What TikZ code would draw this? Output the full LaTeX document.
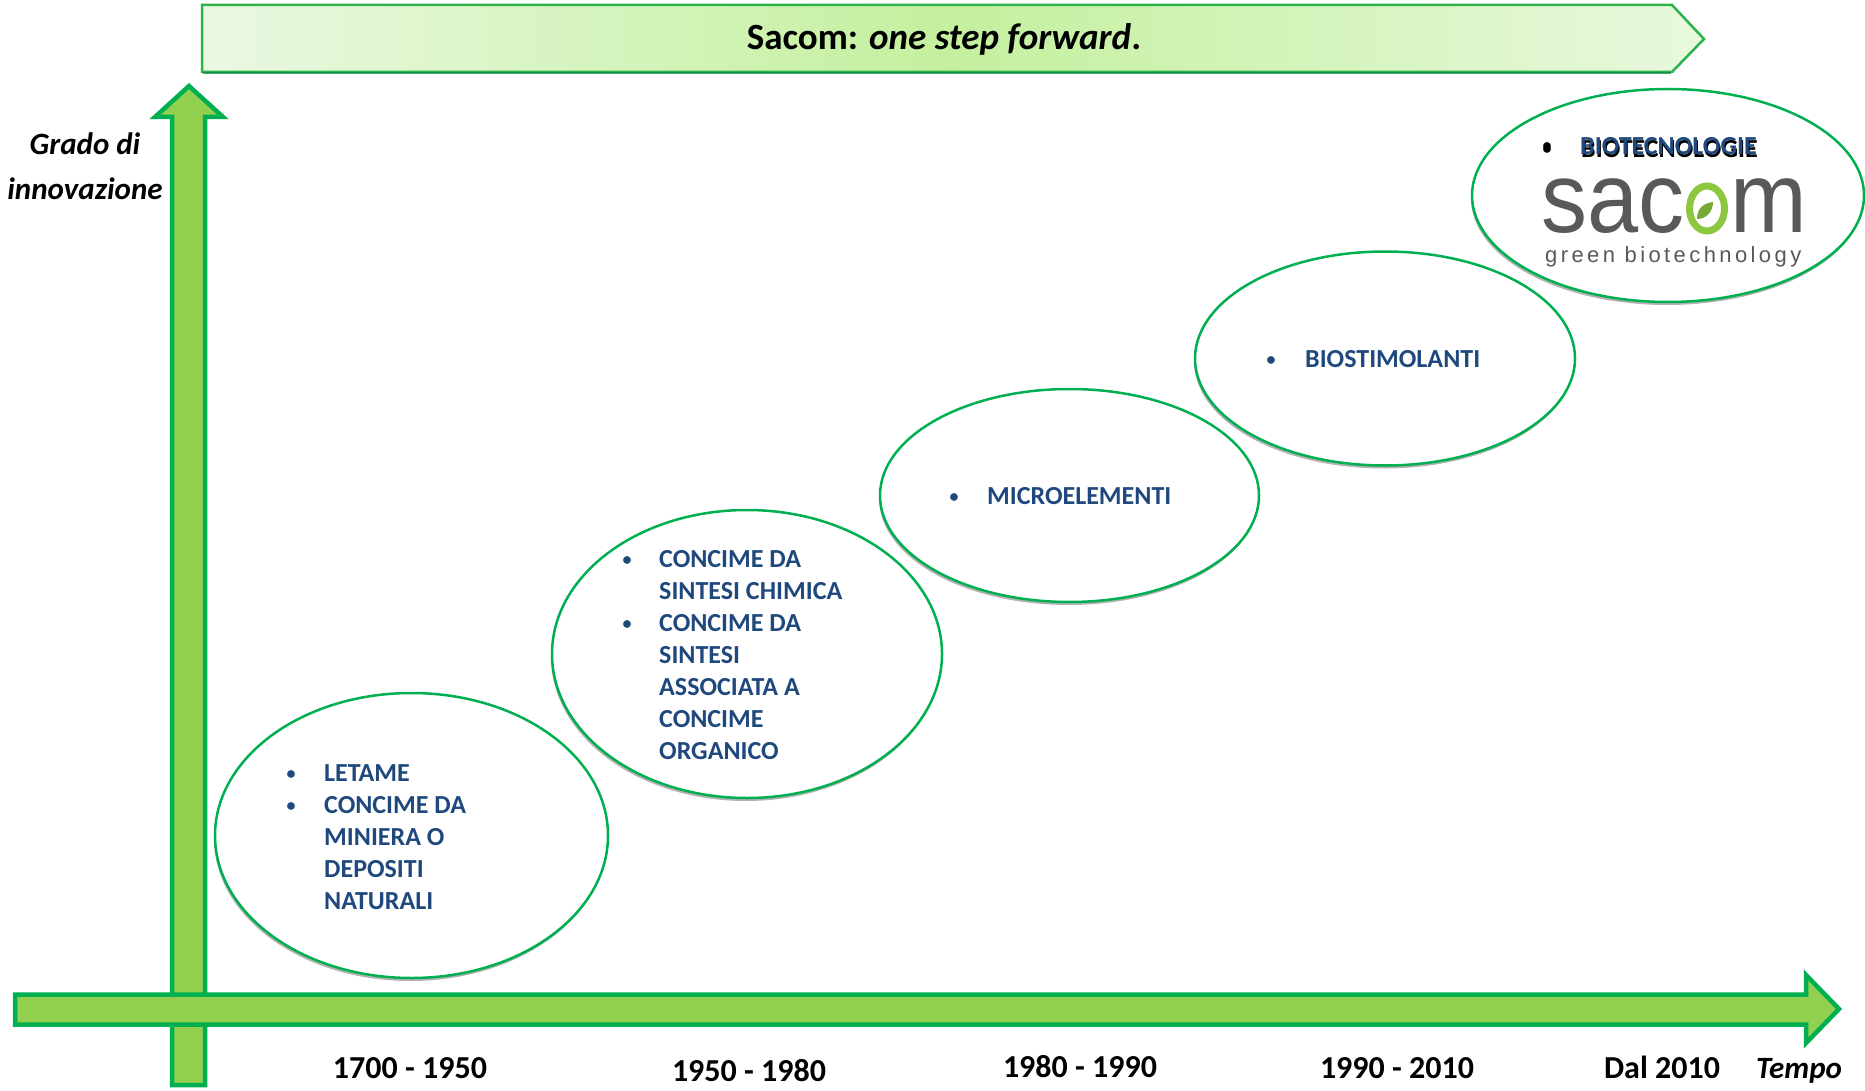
\documentclass[tikz,border=0pt]{standalone}
\usepackage{fontspec}
\setmainfont{Carlito}
\newfontfamily\logofont{Liberation Sans}
\newfontfamily\logosmall[LetterSpace=15.5]{Liberation Sans}
\usetikzlibrary{shapes.geometric,shadows}
\definecolor{agreen}{HTML}{00B050}
\definecolor{lgreen}{HTML}{92D050}
\definecolor{tblue}{HTML}{1F497D}
\definecolor{bborder}{HTML}{2EB24C}
\definecolor{bleft}{HTML}{EAF8E2}
\definecolor{bmid}{HTML}{C4F09E}
\definecolor{bright}{HTML}{E8F8DE}
\definecolor{logogray}{HTML}{595959}
\definecolor{logolime}{HTML}{8DC63F}
\begin{document}
\begin{tikzpicture}[x=1pt,y=-1pt,
  era/.style={ellipse, draw=agreen, line width=2.5pt, fill=white, inner sep=0pt,
    general shadow={fill=gray!60, shadow xshift=-1pt, shadow yshift=-3pt}},
  lst/.style={font=\fontsize{26}{32}\selectfont\bfseries, text=tblue, align=left, inner sep=0pt, anchor=north west},
  bul/.style={font=\fontsize{18}{22}\selectfont\bfseries, text=tblue, inner sep=0pt, anchor=base},
  datelbl/.style={font=\fontsize{32}{38}\selectfont\bfseries, inner sep=0pt, anchor=base},
  axlbl/.style={font=\fontsize{31}{37}\selectfont\bfseries\itshape, inner sep=0pt, anchor=base},
  logobig/.style={font=\logofont\fontsize{100}{104}\selectfont, text=logogray, inner sep=0pt, anchor=base west, xscale=.92},
  bigarrow/.style={draw=agreen, fill=lgreen, line width=4.5pt, line join=miter}]
\useasboundingbox (0,0) rectangle (1865,1091);
\fill[white] (0,0) rectangle (1865,1091);

% banner
\draw[draw=bborder, line width=2.5pt, left color=bleft, right color=bright, middle color=bmid]
  (202,5) -- (1672,5) -- (1704,39) -- (1672,72) -- (202,72) -- cycle;
\draw[draw=agreen!75!black, line width=2pt, opacity=.7] (203,73) -- (1671,73);
\node[font=\fontsize{37}{44}\selectfont\bfseries, inner sep=0pt, anchor=base] (title) at (944,50)
  {Sacom: \textit{one step forward}.};

% vertical axis
\draw[bigarrow] (172,1085) -- (172,117) -- (155,117) -- (189,86) -- (223,117) -- (205,117) -- (205,1085) -- cycle;
% horizontal axis
\draw[bigarrow] (15,994.5) -- (1806,994.5) -- (1806,975) -- (1839,1009) -- (1806,1043) -- (1806,1024.5) -- (15,1024.5) -- cycle;

% axis labels
\node[axlbl] (grado) at (85,155) {Grado di};
\node[axlbl] (innov) at (85,200) {innovazione};
\node[axlbl] (tempo) at (1799,1078) {Tempo};

% dates
\node[datelbl] (d1) at (410,1078) {1700 - 1950};
\node[datelbl] (d2) at (749,1081) {1950 - 1980};
\node[datelbl] (d3) at (1080,1077) {1980 - 1990};
\node[datelbl] (d4) at (1397,1078) {1990 - 2010};
\node[datelbl] (d5) at (1662,1078) {Dal 2010};

% ellipses
\node[era, minimum width=393pt, minimum height=285pt] (e1) at (411.5,835.5) {};
\node[era, minimum width=390pt, minimum height=288pt] (e2) at (747,654) {};
\node[era, minimum width=379pt, minimum height=213pt] (e3) at (1069.5,495.5) {};
\node[era, minimum width=380pt, minimum height=214pt] (e4) at (1385,358.5) {};
\node[era, minimum width=392pt, minimum height=213pt] (e5) at (1668,195.5) {};

% texts ellipse 1
\node[bul] (b11) at (291,779) {•};
\node[bul] (b12) at (291,811) {•};
\node[lst] (t1) at (324,764.3) {LETAME\\CONCIME DA\\MINIERA O\\DEPOSITI\\NATURALI};
% ellipse 2
\node[bul] (b21) at (627,565) {•};
\node[bul] (b22) at (627,629) {•};
\node[lst] (t2) at (659,550.3) {CONCIME DA\\SINTESI CHIMICA\\CONCIME DA\\SINTESI\\ASSOCIATA A\\CONCIME\\ORGANICO};
% ellipse 3
\node[bul] (b31) at (954,502) {•};
\node[lst, anchor=base west] (t3) at (987,504) {MICROELEMENTI};
% ellipse 4
\node[bul] (b41) at (1271,365) {•};
\node[lst, anchor=base west] (t4) at (1305,367) {BIOSTIMOLANTI};
% ellipse 5
\node[bul, text=black] (b51s) at (1547,155) {•};
\node[bul, text=black] (b51) at (1547,152) {•};
\node[lst, anchor=base west, text=black] (t5s) at (1581,157.5) {BIOTECNOLOGIE};
\node[lst, anchor=base west] (t5) at (1580,155) {BIOTECNOLOGIE};

% logo
\node[logobig] (lsac) at (1541,233) {sac};
\draw[logolime, line width=7pt] (1707,208.5) ellipse [x radius=17.5, y radius=22.5];
\fill[logolime!85!black] (1697,219) .. controls (1697,208) and (1704,203) .. (1713,202) .. controls (1713,212) and (1706,219) .. cycle;
\node[logobig] (lm) at (1730,233) {m};
\node[font=\logosmall\fontsize{22}{26}\selectfont, text=logogray, inner sep=0pt, anchor=base west] (lgreen) at (1545,262) {green biotechnology};
\end{tikzpicture}
\end{document}
